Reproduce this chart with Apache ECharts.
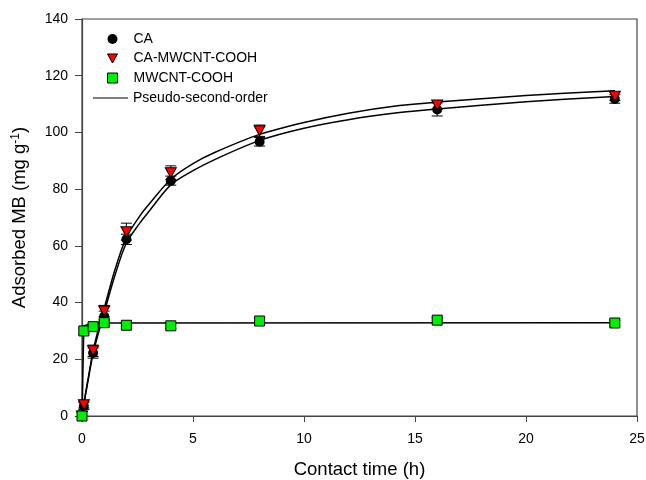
<!DOCTYPE html>
<html>
<head>
<meta charset="utf-8">
<script src="https://cdn.jsdelivr.net/npm/echarts@6/dist/echarts.min.js"></script>
<style>
  html, body { margin: 0; padding: 0; background: #fff; }
  #chart { width: 646px; height: 480px; }
</style>
</head>
<body>
<div id="chart"></div>
<script>
// measured points
const time = [0, 0.083, 0.5, 1, 2, 4, 8, 16, 24]
const caValues = [0, 3.5, 22.2, 35.2, 62.3, 83.0, 96.7, 108.1, 111.8]
const caErr = [0, 1.2, 1.8, 1.8, 1.8, 1.6, 1.5, 2.3, 1.5]
const camValues = [0, 4.0, 23.0, 37.0, 65.0, 85.8, 100.6, 109.7, 112.8]
const camErr = [0, 1.2, 2.0, 2.0, 3.0, 2.4, 2.0, 1.5, 1.5]
const mwValues = [0, 30.0, 31.5, 32.9, 32.0, 31.8, 33.5, 33.8, 32.8]
const mwErr = [0, 1, 1, 1, 1, 1, 1, 1, 1]

// fitted curves
const fitTime = [0, 0.083, 0.25, 0.5, 0.75, 1, 1.5, 2, 2.6, 3, 4, 5, 6, 8, 10, 12, 14.3, 16, 20, 24]
const fitCam = [0, 4.5, 12, 23, 31, 38, 52, 63, 70.5, 74.5, 83.5, 89, 93, 99.3, 103.5, 106.8, 109.5, 110.7, 113, 114.7]
const fitCa = [0, 4, 11.5, 22, 29.5, 36.5, 50, 61, 68, 72, 81.5, 86.5, 90.5, 97.2, 101.5, 104.5, 107, 108.3, 110.8, 112.7]
const fitMwTime = [0, 0.083, 0.5, 1, 24]
const fitMw = [0, 31.8, 32.6, 32.8, 32.9]

const xTicks = { min: 0, max: 25, interval: 5 }
const yTicks = { min: 0, max: 140, interval: 20 }

const FONT = 'Liberation Sans, Arial, sans-serif'

const pairs = (xs, ys) => xs.map((x, i) => [x, ys[i]])
const errData = (xs, ys, es) => xs.map((x, i) => [x, ys[i], es[i]])

// error bars with caps
const renderErr = (params, api) => {
  const x = api.value(0)
  const y = api.value(1)
  const e = api.value(2)
  if (!e) return
  const top = api.coord([x, y + e])
  const bot = api.coord([x, y - e])
  const half = 5.5
  const style = { stroke: '#000', lineWidth: 1 }
  return {
    type: 'group',
    children: [
      { type: 'line', shape: { x1: top[0], y1: top[1], x2: bot[0], y2: bot[1] }, style },
      { type: 'line', shape: { x1: top[0] - half, y1: top[1], x2: top[0] + half, y2: top[1] }, style },
      { type: 'line', shape: { x1: bot[0] - half, y1: bot[1], x2: bot[0] + half, y2: bot[1] }, style },
    ],
  }
}

const fitLine = (data, smooth) => ({
  name: 'Pseudo-second-order',
  type: 'line',
  data,
  smooth,
  showSymbol: false,
  symbol: 'none',
  lineStyle: { color: '#000', width: 1.5 },
  itemStyle: { color: '#555' },
  z: 2,
  silent: true,
})

const errSeries = (data) => ({
  type: 'custom',
  renderItem: renderErr,
  data,
  z: 1,
  silent: true,
})

const chart = echarts.init(document.getElementById('chart'))

chart.setOption({
  animation: false,
  backgroundColor: '#fff',
  textStyle: { fontFamily: FONT },
  grid: {
    left: 82, right: 9, top: 19, bottom: 64,
    outerBoundsMode: 'none',
    containLabel: false,
    show: true, borderColor: '#444', borderWidth: 1.2,
  },
  legend: [
    {
      data: [
        { name: 'CA', icon: 'circle', itemStyle: { color: '#000', borderWidth: 0 } },
        { name: 'CA-MWCNT-COOH', icon: 'path://M0,0L11,0L5.5,10Z', itemStyle: { color: '#ff0000', borderColor: '#000', borderWidth: 1 } },
        { name: 'MWCNT-COOH', icon: 'rect', itemStyle: { color: '#00ee00', borderColor: '#000', borderWidth: 1 } },
      ],
      orient: 'vertical',
      left: 102,
      top: 27,
      itemWidth: 10,
      itemHeight: 10,
      itemGap: 5.5,
      textStyle: { fontSize: 14, color: '#000', fontFamily: FONT, padding: [0, 0, 0, 11], lineHeight: 14 },
    },
    {
      data: [{ name: 'Pseudo-second-order', icon: 'rect', itemStyle: { color: '#555', borderWidth: 0 } }],
      orient: 'vertical',
      left: 88,
      top: 86,
      itemWidth: 35,
      itemHeight: 1.5,
      textStyle: { fontSize: 14, color: '#000', fontFamily: FONT, lineHeight: 14 },
    },
  ],
  xAxis: {
    type: 'value',
    min: xTicks.min,
    max: xTicks.max,
    interval: xTicks.interval,
    name: 'Contact time (h)',
    nameLocation: 'middle',
    nameGap: 44,
    nameTextStyle: { fontSize: 18.5, color: '#000', fontFamily: FONT },
    axisLine: { show: true, lineStyle: { color: '#444', width: 1.2 } },
    axisTick: { show: true, length: 6, lineStyle: { color: '#444' } },
    axisLabel: { fontSize: 14, color: '#000', margin: 16, fontFamily: FONT },
    splitLine: { show: false },
  },
  yAxis: {
    type: 'value',
    min: yTicks.min,
    max: yTicks.max,
    interval: yTicks.interval,
    name: 'Adsorbed MB (mg g{sup|-1})',
    nameLocation: 'middle',
    nameGap: 53,
    nameTextStyle: {
      fontSize: 18.5, color: '#000', fontFamily: FONT,
      rich: { sup: { fontSize: 12, fontFamily: FONT, color: '#000', verticalAlign: 'top', lineHeight: 12 } },
    },
    axisLine: { show: true, lineStyle: { color: '#444', width: 1.2 } },
    axisTick: { show: true, length: 7, lineStyle: { color: '#444' } },
    axisLabel: { fontSize: 14, color: '#000', margin: 14, fontFamily: FONT },
    splitLine: { show: false },
  },
  series: [
    fitLine(pairs(fitTime, fitCam), 0.3),
    fitLine(pairs(fitTime, fitCa), 0.3),
    fitLine(pairs(fitMwTime, fitMw), false),
    errSeries(errData(time, caValues, caErr)),
    errSeries(errData(time, camValues, camErr)),
    errSeries(errData(time, mwValues, mwErr)),
    {
      name: 'CA',
      type: 'scatter',
      data: pairs(time, caValues),
      symbol: 'circle',
      symbolSize: 10,
      itemStyle: { color: '#000', opacity: 1 },
      z: 3,
    },
    {
      name: 'CA-MWCNT-COOH',
      type: 'scatter',
      data: pairs(time, camValues),
      symbol: 'triangle',
      symbolRotate: 180,
      symbolSize: [11, 10],
      itemStyle: { color: '#ff0000', borderColor: '#000', borderWidth: 1, opacity: 1 },
      z: 4,
    },
    {
      name: 'MWCNT-COOH',
      type: 'scatter',
      data: pairs(time, mwValues),
      symbol: 'rect',
      symbolSize: 10,
      itemStyle: { color: '#00ee00', borderColor: '#000', borderWidth: 1, opacity: 1 },
      z: 5,
    },
  ],
})

window.addEventListener('resize', () => chart.resize())
</script>
</body>
</html>
